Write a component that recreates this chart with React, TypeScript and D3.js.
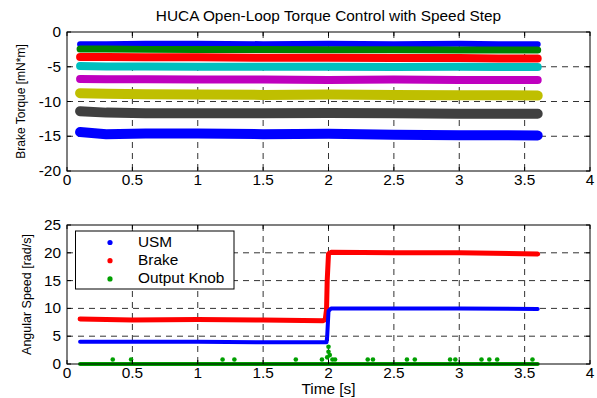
import React from "react";
import * as d3 from "d3";

// ---------- data ----------
const torqueTimes = [0.1, 0.3, 0.6, 1.0, 1.5, 2.0, 2.5, 3.0, 3.3, 3.6];
const torqueSeries = [
  { name: "T1", color: "#0000ff", width: 6, values: [-1.75, -1.75, -1.7, -1.7, -1.75, -1.7, -1.75, -1.7, -1.75, -1.75] },
  { name: "T2", color: "#008000", width: 7, values: [-2.45, -2.45, -2.5, -2.5, -2.5, -2.55, -2.55, -2.6, -2.6, -2.6] },
  { name: "T3", color: "#ff0000", width: 8, values: [-3.6, -3.6, -3.65, -3.65, -3.7, -3.7, -3.75, -3.75, -3.8, -3.8] },
  { name: "T4", color: "#00bfbf", width: 8, values: [-4.9, -4.95, -4.95, -5.0, -5.0, -5.0, -5.05, -5.0, -5.05, -5.05] },
  { name: "T5", color: "#bf00bf", width: 8, values: [-6.75, -6.8, -6.8, -6.85, -6.85, -6.9, -6.85, -6.9, -6.9, -6.9] },
  { name: "T6", color: "#bfbf00", width: 10, values: [-8.8, -8.9, -8.95, -9.0, -9.05, -9.0, -9.05, -9.1, -9.1, -9.15] },
  { name: "T7", color: "#404040", width: 10, values: [-11.4, -11.6, -11.7, -11.7, -11.7, -11.65, -11.7, -11.75, -11.75, -11.75] },
  { name: "T8", color: "#0000ff", width: 10, values: [-14.4, -14.7, -14.6, -14.6, -14.7, -14.65, -14.8, -14.85, -14.85, -14.9] },
];

const speedTimes = [0.1, 0.5, 1.0, 1.5, 1.96, 1.975, 1.985, 1.99, 2.0, 2.02, 2.5, 3.0, 3.6];
const usmSpeed = [4.0, 4.0, 4.0, 3.9, 3.9, 3.9, 3.9, 5.0, 9.5, 10.0, 10.0, 10.0, 9.9];
const brakeSpeed = [8.1, 7.9, 8.0, 7.9, 7.8, 8.0, 9.8, 15.0, 19.8, 20.1, 20.0, 20.0, 19.8];
const knobTimes = [0.1, 3.6];
const knobSpeed = [0, 0];
const knobSpikeT = [0.35, 0.49, 1.19, 1.28, 1.75, 1.95, 1.99, 2.0, 2.0, 2.01, 2.03, 2.05, 2.3, 2.34, 2.6, 2.66, 2.93, 2.97, 3.17, 3.23, 3.29, 3.56];
const knobSpikeV = [0.8, 0.8, 0.8, 0.8, 0.8, 0.8, 1.2, 2.2, 3.1, 1.6, 0.8, 0.8, 0.8, 0.8, 0.8, 0.8, 0.8, 0.8, 0.8, 0.8, 0.8, 0.8];

const xTicks = [0, 0.5, 1, 1.5, 2, 2.5, 3, 3.5, 4];
const xTickLabels = ["0", "0.5", "1", "1.5", "2", "2.5", "3", "3.5", "4"];
const torqueTicks = [0, -5, -10, -15, -20];
const speedTicks = [0, 5, 10, 15, 20, 25];
const legendNames = ["USM", "Brake", "Output Knob"];
const legendColors = ["#0000ff", "#ff0000", "#00a000"];

// ---------- layout ----------
const X0 = 67, X1 = 590;
const TOP = { y0: 32, y1: 171 };
const BOT = { y0: 225, y1: 364 };
const FONT = "Liberation Sans, Arial, sans-serif";
const GRID = "#333";
const SX = 1.1;

function Txt(props: { x: number; y: number; anchor?: string; size?: number; children: React.ReactNode }) {
  const { x, y, anchor = "start", size = 14, children } = props;
  return (
    <text transform={`translate(${x},${y}) scale(${SX},1)`} textAnchor={anchor} fontSize={size} fontFamily={FONT} fill="#000">
      {children}
    </text>
  );
}

export default function App() {
  const x = d3.scaleLinear().domain([0, 4]).range([X0, X1]);
  const yT = d3.scaleLinear().domain([-20, 0]).range([TOP.y1, TOP.y0]);
  const yS = d3.scaleLinear().domain([0, 25]).range([BOT.y1, BOT.y0]);

  const lineT = (vals: number[]) =>
    d3.line<number>().x((_, i) => x(torqueTimes[i])).y((v) => yT(v))(vals) || "";
  const lineS = (times: number[], vals: number[]) =>
    d3.line<number>().x((_, i) => x(times[i])).y((v) => yS(v))(vals) || "";

  const grid = (y: d3.ScaleLinear<number, number>, ticks: number[], box: { y0: number; y1: number }) => (
    <g>
      {xTicks.slice(1, -1).map((t) => (
        <line key={"gx" + t} x1={x(t)} x2={x(t)} y1={box.y0} y2={box.y1} stroke={GRID} strokeWidth={1} strokeDasharray="6,5" />
      ))}
      {ticks.slice(1, -1).map((t) => (
        <line key={"gy" + t} x1={X0} x2={X1} y1={y(t)} y2={y(t)} stroke={GRID} strokeWidth={1} strokeDasharray="6,5" />
      ))}
    </g>
  );

  const frame = (y: d3.ScaleLinear<number, number>, ticks: number[], box: { y0: number; y1: number }) => (
    <g>
      <rect x={X0} y={box.y0} width={X1 - X0} height={box.y1 - box.y0} fill="none" stroke="#000" strokeWidth={1} />
      {xTicks.map((t) => (
        <g key={"tx" + t}>
          <line x1={x(t)} x2={x(t)} y1={box.y1} y2={box.y1 - 4} stroke="#000" />
          <line x1={x(t)} x2={x(t)} y1={box.y0} y2={box.y0 + 4} stroke="#000" />
        </g>
      ))}
      {ticks.map((t) => (
        <g key={"ty" + t}>
          <line x1={X0} x2={X0 + 4} y1={y(t)} y2={y(t)} stroke="#000" />
          <line x1={X1} x2={X1 - 4} y1={y(t)} y2={y(t)} stroke="#000" />
          <Txt x={X0 - 6} y={y(t) + 5} anchor="end">{t}</Txt>
        </g>
      ))}
      {xTicks.map((t, i) => (
        <Txt key={"lx" + t} x={x(t)} y={box.y1 + 14} anchor="middle">{xTickLabels[i]}</Txt>
      ))}
    </g>
  );

  return (
    <svg width={597} height={398} style={{ position: "absolute", left: 0, top: 0, background: "#fff" }}>
      <rect x={0} y={0} width={597} height={398} fill="#fff" />
      <Txt x={(X0 + X1) / 2 + 0} y={21} anchor="middle">HUCA Open-Loop Torque Control with Speed Step</Txt>

      {/* top plot */}
      {grid(yT, torqueTicks.slice().reverse(), TOP)}
      {torqueSeries.map((s) => (
        <path key={s.name} d={lineT(s.values)} fill="none" stroke={s.color} strokeWidth={s.width} strokeLinecap="round" strokeLinejoin="round" />
      ))}
      {frame(yT, torqueTicks, TOP)}
      <text transform={`translate(25,${(TOP.y0 + TOP.y1) / 2}) rotate(-90)`} textAnchor="middle" fontSize={12} fontFamily={FONT}>
        Brake Torque [mN*m]
      </text>

      {/* bottom plot */}
      {grid(yS, speedTicks, BOT)}
      <path d={lineS(speedTimes, brakeSpeed)} fill="none" stroke="#ff0000" strokeWidth={5} strokeLinecap="round" strokeLinejoin="round" />
      <path d={lineS(speedTimes, usmSpeed)} fill="none" stroke="#0000ff" strokeWidth={4} strokeLinecap="round" strokeLinejoin="round" />
      <path d={lineS(knobTimes, knobSpeed)} fill="none" stroke="#00a000" strokeWidth={4} strokeLinecap="round" />
      {knobSpikeT.map((t, i) => (
        <circle key={"k" + i} cx={x(t)} cy={yS(knobSpikeV[i])} r={2.3} fill="#00a000" />
      ))}
      {frame(yS, speedTicks, BOT)}
      <text transform={`translate(31,${(BOT.y0 + BOT.y1) / 2}) rotate(-90)`} textAnchor="middle" fontSize={12.5} fontFamily={FONT}>
        Angular Speed [rad/s]
      </text>
      <Txt x={(X0 + X1) / 2} y={394} anchor="middle">Time [s]</Txt>

      {/* legend */}
      <rect x={75.5} y={231} width={158.5} height={58} fill="#fff" stroke="#000" strokeWidth={1} />
      {legendNames.map((n, i) => (
        <g key={n}>
          <circle cx={110} cy={242.5 + i * 18.2} r={2.6} fill={legendColors[i]} />
          <Txt x={138} y={247 + i * 18.2}>{n}</Txt>
        </g>
      ))}
    </svg>
  );
}
